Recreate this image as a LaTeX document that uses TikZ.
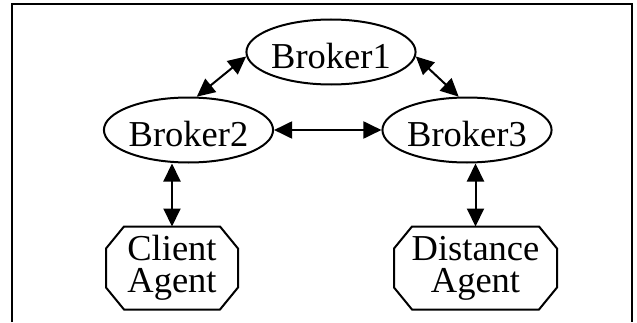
\documentclass[tikz,border=0pt]{standalone}
\usepackage{fontspec}
\setmainfont{Liberation Serif}
\usetikzlibrary{arrows.meta,shapes.geometric}

\begin{document}
\begin{tikzpicture}[<->,>={Triangle[length=18pt,width=17pt]},x=1pt,y=1pt,
                    node distance=138pt,line width=2pt,
                    font=\fontsize{36.5}{32}\selectfont]
  \tikzstyle{broker}=[ellipse,draw,inner sep=0pt,minimum height=65pt,
                      text height=33pt,text depth=0pt]
  \tikzstyle{agent}=[rectangle,inner sep=0pt,align=center,minimum height=81pt]
  \useasboundingbox (0,0) rectangle (637,322);

  \node[broker,minimum width=162pt] (b1) at (331,270)     {Broker1};
  \node[broker,minimum width=163pt] (b2) at (188.5,192)   {Broker2};
  \node[broker,minimum width=144pt] (b3) at (467,192)     {Broker3};

  \node[agent,minimum width=130pt] (client)   [below of=b2,xshift=-16.5pt] {Client\\Agent};
  \node[agent,minimum width=161pt] (distance) [below of=b3,xshift=8.5pt]   {Distance\\Agent};

  % octagon outlines round the agents
  \foreach \n in {client,distance}
    \draw[-] ([xshift=18pt]\n.north west) -- ([xshift=-18pt]\n.north east)
          -- ([yshift=-22pt]\n.north east) -- ([yshift=22pt]\n.south east)
          -- ([xshift=-18pt]\n.south east) -- ([xshift=18pt]\n.south west)
          -- ([yshift=22pt]\n.south west) -- ([yshift=-22pt]\n.north west) -- cycle;

  \path (b2.76)  edge (b1.183)
        (b1.-3)  edge (b3.104)
        (b2)     edge (b3)
        (client) edge (client |- b2.south)
        (distance) edge (distance |- b3.south);

  % frame, open at the bottom
  \draw[-] (12,0) -- (12,318) -- (632,318) -- (632,0);
\end{tikzpicture}
\end{document}
